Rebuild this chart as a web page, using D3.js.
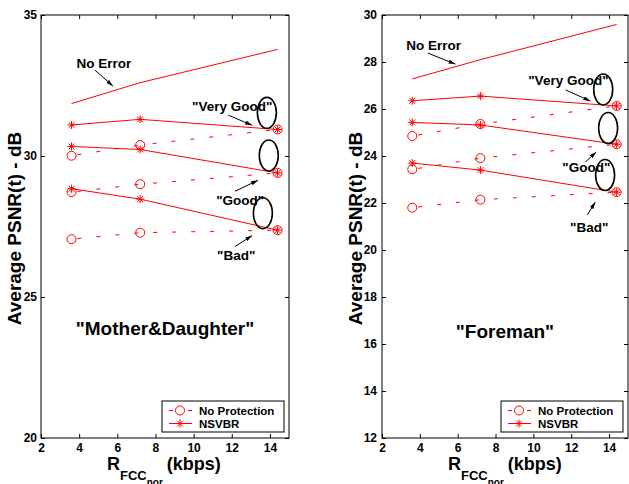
<!DOCTYPE html>
<html lang="en">
<head>
<meta charset="UTF-8" />
<title>Average PSNR vs R_FCC</title>
<script src="https://d3js.org/d3.v7.min.js"></script>
<style>
  body { margin: 0; background: #fff; }
  svg { display: block; font-family: "Liberation Sans", Arial, Helvetica, sans-serif; font-weight: bold; }
</style>
</head>
<body>
<svg id="chart" width="629" height="484"></svg>
<script>
// rates (kbps) used by every curve
const rates = [3.6, 7.2, 14.4];
const xTicks = [2, 4, 6, 8, 10, 12, 14];

// "Mother&Daughter"
const mdYTicks = [20, 25, 30, 35];
const mdNoError = [31.86, 32.6, 33.78];
const mdNsvbrVeryGood = [31.1, 31.3, 30.94];
const mdNsvbrGood = [30.34, 30.23, 29.4];
const mdNsvbrBad = [28.84, 28.47, 27.37];
const mdNoProtVeryGood = [30.01, 30.39, 30.94];
const mdNoProtGood = [28.72, 29.0, 29.4];
const mdNoProtBad = [27.05, 27.28, 27.37];

// "Foreman"
const fmYTicks = [12, 14, 16, 18, 20, 22, 24, 26, 28, 30];
const fmNoError = [27.28, 28.1, 29.6];
const fmNsvbrVeryGood = [26.35, 26.55, 26.13];
const fmNsvbrGood = [25.43, 25.32, 24.5];
const fmNsvbrBad = [23.7, 23.4, 22.46];
const fmNoProtVeryGood = [24.85, 25.36, 26.13];
const fmNoProtGood = [23.43, 23.91, 24.5];
const fmNoProtBad = [21.8, 22.14, 22.46];

const legendLabels = ["No Protection", "NSVBR"];

const panels = [
  {
    title: '"Mother&Daughter"',
    left: 41, right: 289, top: 15, bottom: 438, yPad: 4,
    yDomain: [20, 35], yTicks: mdYTicks,
    noError: mdNoError,
    nsvbr: [mdNsvbrVeryGood, mdNsvbrGood, mdNsvbrBad],
    noProt: [mdNoProtVeryGood, mdNoProtGood, mdNoProtBad],
    titlePos: [8.5, 23.88],
    labels: [
      { text: "No Error", at: [5.3, 33.29], from: [4.82, 33.05], to: [5.77, 32.48] },
      { text: '"Very Good"', at: [12.02, 31.77], from: [11.81, 31.45], to: [13.07, 31.09] },
      { text: '"Good"', at: [12.44, 28.43], from: [12.17, 28.75], to: [13.38, 29.14] },
      { text: '"Bad"', at: [12.23, 26.47], from: [12.17, 26.79], to: [13.07, 27.18] }
    ],
    rings: [[13.84, 31.53], [13.94, 30.02], [13.63, 27.97]]
  },
  {
    title: '"Foreman"',
    left: 382, right: 628, top: 15, bottom: 438, yPad: 5,
    yDomain: [12, 30], yTicks: fmYTicks,
    noError: fmNoError,
    nsvbr: [fmNsvbrVeryGood, fmNsvbrGood, fmNsvbrBad],
    noProt: [fmNoProtVeryGood, fmNoProtGood, fmNoProtBad],
    titlePos: [8.5, 16.55],
    labels: [
      { text: "No Error", at: [4.73, 28.72], from: [4.42, 28.38], to: [5.88, 27.91] },
      { text: '"Very Good"', at: [11.85, 27.23], from: [11.7, 26.81], to: [13.01, 26.34] },
      { text: '"Good"', at: [12.8, 23.53], from: [12.74, 23.74], to: [13.32, 24.17] },
      { text: '"Bad"', at: [12.95, 20.98], from: [12.85, 21.49], to: [13.27, 22.04] }
    ],
    rings: [[13.69, 26.83], [13.95, 25.19], [13.79, 23.19]]
  }
];

const svg = d3.select("#chart");
const RED = "#ff0000";

// arrow head
svg.append("defs").append("marker")
  .attr("id", "head")
  .attr("viewBox", "0 0 10 6")
  .attr("refX", 10).attr("refY", 3)
  .attr("markerWidth", 7).attr("markerHeight", 4.2)
  .attr("orient", "auto")
  .append("path")
  .attr("d", "M0,0L10,3L0,6z")
  .attr("fill", "#000");

const starPath = "M-4,0H4M0,-4V4M-2.9,-2.9L2.9,2.9M-2.9,2.9L2.9,-2.9";

panels.forEach(drawPanel);

function drawPanel(p) {
  const x = d3.scaleLinear().domain([2, 15]).range([p.left, p.right]);
  const y = d3.scaleLinear().domain(p.yDomain).range([p.bottom, p.top]);
  const g = svg.append("g");

  // axes: ticks inside, box on all sides
  const tickLen = 4;
  g.append("g")
    .attr("transform", `translate(0,${p.bottom})`)
    .call(d3.axisBottom(x).tickValues(xTicks).tickSizeInner(-tickLen).tickSizeOuter(0).tickPadding(5))
    .call(ax => ax.selectAll("text").attr("font-size", 12).attr("font-weight", "bold").attr("fill", "#000"));
  g.append("g")
    .attr("transform", `translate(0,${p.top})`)
    .call(d3.axisTop(x).tickValues(xTicks).tickSizeInner(-tickLen).tickSizeOuter(0).tickFormat(""));
  g.append("g")
    .attr("transform", `translate(${p.left},0)`)
    .call(d3.axisLeft(y).tickValues(p.yTicks).tickSizeInner(-tickLen).tickSizeOuter(0).tickPadding(p.yPad))
    .call(ax => ax.selectAll("text").attr("font-size", 12).attr("font-weight", "bold").attr("fill", "#000"));
  g.append("g")
    .attr("transform", `translate(${p.right},0)`)
    .call(d3.axisRight(y).tickValues(p.yTicks).tickSizeInner(-tickLen).tickSizeOuter(0).tickFormat(""));
  g.selectAll(".domain").remove();
  g.selectAll(".tick line").attr("stroke", "#000");
  g.append("rect")
    .attr("x", p.left).attr("y", p.top)
    .attr("width", p.right - p.left).attr("height", p.bottom - p.top)
    .attr("fill", "none").attr("stroke", "#000");

  const line = d3.line().x((d, i) => x(rates[i])).y(d => y(d));

  // no error reference
  g.append("path").datum(p.noError)
    .attr("d", line).attr("fill", "none").attr("stroke", RED).attr("stroke-width", 1);

  // no protection (dashed, circles)
  p.noProt.forEach(s => {
    g.append("path").datum(s)
      .attr("d", line).attr("fill", "none").attr("stroke", RED)
      .attr("stroke-dasharray", "4,15").attr("stroke-dashoffset", -6);
    g.selectAll(null).data(s).enter().append("circle")
      .attr("cx", (d, i) => x(rates[i])).attr("cy", d => y(d))
      .attr("r", 4.5).attr("fill", "none").attr("stroke", RED);
  });

  // NSVBR (solid, asterisks)
  p.nsvbr.forEach(s => {
    g.append("path").datum(s)
      .attr("d", line).attr("fill", "none").attr("stroke", RED);
    g.selectAll(null).data(s).enter().append("path")
      .attr("transform", (d, i) => `translate(${x(rates[i])},${y(d)})`)
      .attr("d", starPath).attr("stroke", RED).attr("fill", "none");
  });

  // ellipses around the end points
  p.rings.forEach(r => {
    g.append("ellipse")
      .attr("cx", x(r[0])).attr("cy", y(r[1]))
      .attr("rx", 9.5).attr("ry", 15.5)
      .attr("fill", "none").attr("stroke", "#000").attr("stroke-width", 1.6);
  });

  // annotations
  p.labels.forEach(l => {
    g.append("line")
      .attr("x1", x(l.from[0])).attr("y1", y(l.from[1]))
      .attr("x2", x(l.to[0])).attr("y2", y(l.to[1]))
      .attr("stroke", "#000").attr("stroke-width", 1)
      .attr("marker-end", "url(#head)");
    g.append("text")
      .attr("x", x(l.at[0])).attr("y", y(l.at[1]))
      .attr("dy", "0.36em")
      .attr("text-anchor", "middle")
      .attr("font-size", 13.5)
      .text(l.text);
  });

  g.append("text")
    .attr("x", x(p.titlePos[0])).attr("y", y(p.titlePos[1]))
    .attr("dy", "0.36em")
    .attr("text-anchor", "middle")
    .attr("font-size", 19)
    .text(p.title);

  // y label
  g.append("text")
    .attr("transform", `translate(${p.left - 20},${(p.top + p.bottom) / 2 + 2}) rotate(-90)`)
    .attr("text-anchor", "middle")
    .attr("font-size", 19)
    .text("Average PSNR(t) - dB");

  // x label with nested subscripts
  const xl = g.append("text")
    .attr("x", p.left + 66).attr("y", 470)
    .attr("font-size", 18);
  xl.append("tspan").text("R");
  xl.append("tspan").attr("font-size", 13).attr("dy", 10).text("FCC");
  xl.append("tspan").attr("font-size", 10).attr("dy", 6).text("nor");
  xl.append("tspan").attr("dy", -16).attr("dx", 4).text("(kbps)");

  // legend
  const lw = 122, lh = 31;
  const lx = p.right - 5 - lw, ly = p.bottom - 6 - lh;
  const lg = g.append("g").attr("transform", `translate(${lx},${ly})`);
  lg.append("rect").attr("width", lw).attr("height", lh)
    .attr("fill", "#fff").attr("stroke", "#000");
  legendLabels.forEach((name, i) => {
    const yy = 9.5 + i * 13;
    lg.append("line")
      .attr("x1", 7).attr("x2", 30).attr("y1", yy).attr("y2", yy)
      .attr("stroke", RED)
      .attr("stroke-dasharray", i === 0 ? "4,15" : null);
    if (i === 0) {
      lg.append("circle").attr("cx", 18).attr("cy", yy).attr("r", 4.5)
        .attr("fill", "#fff").attr("stroke", RED);
    } else {
      lg.append("path").attr("transform", `translate(18,${yy})`)
        .attr("d", starPath).attr("stroke", RED);
    }
    lg.append("text")
      .attr("x", 37).attr("y", yy).attr("dy", "0.36em")
      .attr("font-size", 11.5)
      .text(name);
  });
}
</script>
</body>
</html>
